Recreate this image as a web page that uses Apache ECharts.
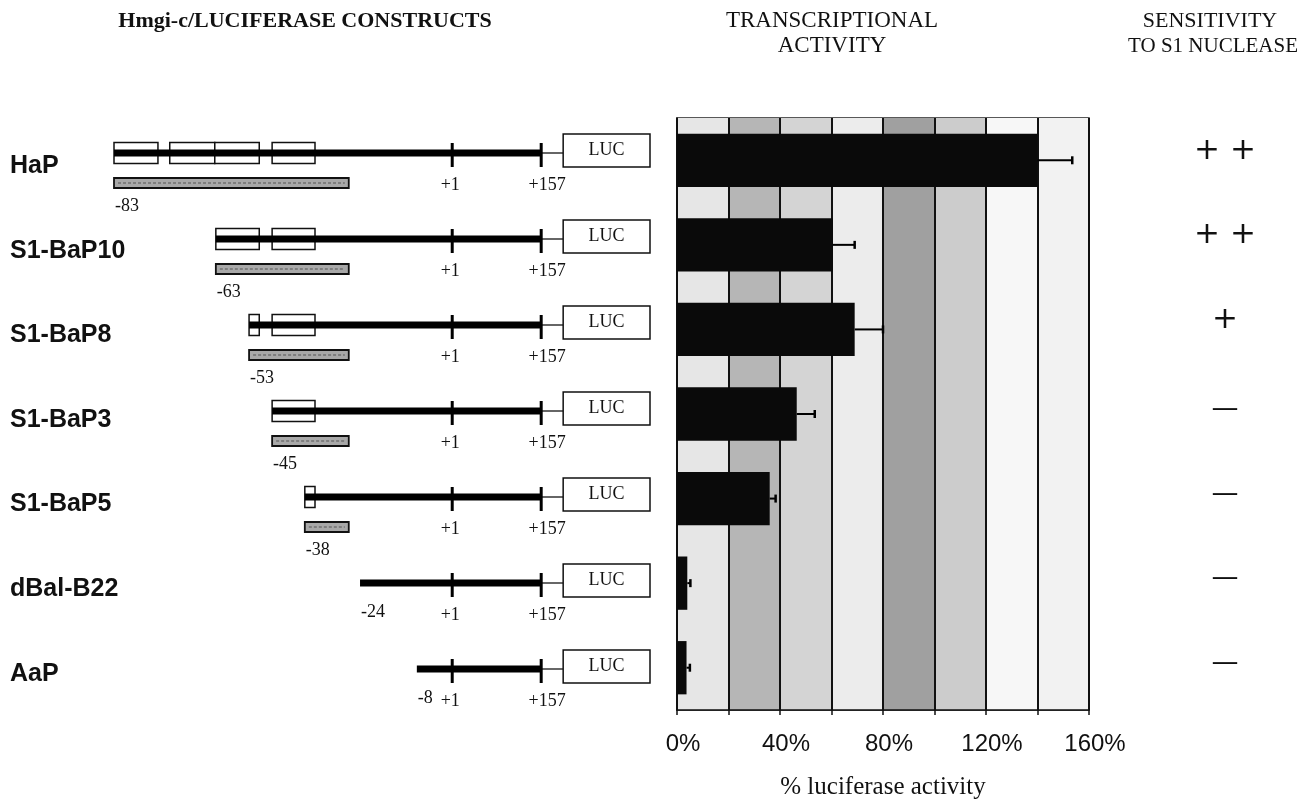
<!DOCTYPE html>
<html>
<head>
<meta charset="utf-8">
<script src="https://cdn.jsdelivr.net/npm/echarts@6/dist/echarts.min.js"></script>
<style>
  html, body { margin: 0; padding: 0; background: #fff; }
  #chart { width: 1314px; height: 800px; }
</style>
</head>
<body>
<div id="chart"></div>
<script>
// ---------- data ----------
const constructs = ['HaP', 'S1-BaP10', 'S1-BaP8', 'S1-BaP3', 'S1-BaP5', 'dBal-B22', 'AaP'];
const startLabels = ['-83', '-63', '-53', '-45', '-38', '-24', '-8'];
const activity = [140, 60.5, 69, 46.5, 36, 4, 3.7];          // % luciferase activity
const activityError = [13.5, 8.5, 11, 7, 2.3, 1.2, 1.3];
const sensitivity = ['++', '++', '+', '-', '-', '-', '-'];
const xTickLabels = [0, 40, 80, 120, 160];

// schematic map (units of a hidden 0-100 map axis, not to scale)
const mapStart = [0, 19.0, 25.2, 29.5, 35.6, 45.9, 56.5];
const mapBoxes = [
  [[0, 8.2], [10.4, 18.8], [18.8, 27.1], [29.5, 37.5]],
  [[19.0, 27.1], [29.5, 37.5]],
  [[25.2, 27.1], [29.5, 37.5]],
  [[29.5, 37.5]],
  [[35.6, 37.5]],
  [],
  []
];
const mapProbeEnd = [43.8, 43.8, 43.8, 43.8, 43.8, null, null];
const mapTSS = 63.1;
const mapEnd = 79.7;
const mapLucStart = 83.8;
const mapLucEnd = 100;

// ---------- chart ----------
const chart = echarts.init(document.getElementById('chart'));
const SERIF = '"Liberation Serif", "Times New Roman", serif';
const SANS = '"Liberation Sans", Arial, sans-serif';

function renderConstruct(params, api) {
  const i = api.value(1);
  const y = api.coord([0, i])[1];
  const X = v => api.coord([v, i])[0];
  const ch = [];
  const hasProbe = mapProbeEnd[i] != null;
  if (hasProbe) {
    ch.push({ type: 'rect', shape: { x: X(mapStart[i]), y: y + 25, width: X(mapProbeEnd[i]) - X(mapStart[i]), height: 10 },
      style: { fill: '#a8a8a8', stroke: '#111', lineWidth: 1.8 } });
    ch.push({ type: 'line', shape: { x1: X(mapStart[i]) + 4, y1: y + 30, x2: X(mapProbeEnd[i]) - 4, y2: y + 30 },
      style: { stroke: '#555', lineWidth: 1, lineDash: [3, 2] } });
  }
  mapBoxes[i].forEach(b => {
    ch.push({ type: 'rect', shape: { x: X(b[0]), y: y - 10.5, width: X(b[1]) - X(b[0]), height: 21 },
      style: { fill: '#fff', stroke: '#111', lineWidth: 1.5 } });
  });
  ch.push({ type: 'rect', shape: { x: X(mapStart[i]), y: y - 3.5, width: X(mapEnd) - X(mapStart[i]), height: 7 },
    style: { fill: '#000' } });
  [mapTSS, mapEnd].forEach(t => {
    ch.push({ type: 'rect', shape: { x: X(t) - 1.5, y: y - 10, width: 3, height: 24 }, style: { fill: '#000' } });
  });
  ch.push({ type: 'line', shape: { x1: X(mapEnd), y1: y, x2: X(mapLucStart), y2: y },
    style: { stroke: '#000', lineWidth: 1.2 } });
  ch.push({ type: 'rect', shape: { x: X(mapLucStart), y: y - 19, width: X(mapLucEnd) - X(mapLucStart), height: 33 },
    style: { fill: '#fff', stroke: '#111', lineWidth: 1.5 } });
  ch.push({ type: 'text', x: (X(mapLucStart) + X(mapLucEnd)) / 2, y: y - 2.5,
    style: { text: 'LUC', align: 'center', verticalAlign: 'middle', font: '18px ' + SERIF, fill: '#111' } });
  ch.push({ type: 'text', x: X(mapStart[i]) + 1, y: y + (hasProbe ? 53 : 29),
    style: { text: startLabels[i], align: 'left', verticalAlign: 'middle', font: '18px ' + SERIF, fill: '#111' } });
  ch.push({ type: 'text', x: X(mapTSS) - 2, y: y + 32,
    style: { text: '+1', align: 'center', verticalAlign: 'middle', font: '18px ' + SERIF, fill: '#111' } });
  ch.push({ type: 'text', x: X(mapEnd) + 6, y: y + 32,
    style: { text: '+157', align: 'center', verticalAlign: 'middle', font: '18px ' + SERIF, fill: '#111' } });
  return { type: 'group', children: ch };
}

function renderError(params, api) {
  const v = api.value(0), i = api.value(1), e = api.value(2);
  const p0 = api.coord([v, i]);
  const p1 = api.coord([v + e, i]);
  return {
    type: 'group',
    children: [
      { type: 'line', shape: { x1: p0[0], y1: p0[1], x2: p1[0], y2: p1[1] }, style: { stroke: '#000', lineWidth: 2 } },
      { type: 'line', shape: { x1: p1[0], y1: p1[1] - 4, x2: p1[0], y2: p1[1] + 4 }, style: { stroke: '#000', lineWidth: 2.5 } }
    ]
  };
}

const option = {
  backgroundColor: '#fff',
  animation: false,
  graphic: [
    { type: 'text', x: 305, y: 21, style: { text: 'Hmgi-c/LUCIFERASE CONSTRUCTS', align: 'center', verticalAlign: 'middle',
      font: 'bold 22px ' + SERIF, fill: '#111' } },
    { type: 'text', x: 832, y: 21, style: { text: 'TRANSCRIPTIONAL', align: 'center', verticalAlign: 'middle',
      font: '23px ' + SERIF, fill: '#111' } },
    { type: 'text', x: 832, y: 46, style: { text: 'ACTIVITY', align: 'center', verticalAlign: 'middle',
      font: '23px ' + SERIF, fill: '#111' } },
    { type: 'text', x: 1210, y: 21, style: { text: 'SENSITIVITY', align: 'center', verticalAlign: 'middle',
      font: '22px ' + SERIF, fill: '#111' } },
    { type: 'text', x: 1213, y: 46, style: { text: 'TO S1 NUCLEASE', align: 'center', verticalAlign: 'middle',
      font: '21px ' + SERIF, fill: '#111' } }
  ],
  grid: [
    { left: 114, right: 664, top: 110, bottom: 88, outerBoundsMode: 'none', containLabel: false },
    { left: 677, right: 225, top: 118, bottom: 90, outerBoundsMode: 'none', containLabel: false,
      show: true, borderColor: '#222', borderWidth: 1.5, backgroundColor: 'transparent' }
  ],
  xAxis: [
    { gridIndex: 0, type: 'value', min: 0, max: 100, show: false },
    {
      gridIndex: 1, type: 'value', min: 0, max: 160, interval: 20,
      axisLine: { show: true, lineStyle: { color: '#111', width: 1.5 } },
      axisTick: { show: true, length: 5, lineStyle: { color: '#111', width: 1.5 } },
      axisLabel: {
        margin: 22, fontSize: 24, fontFamily: SANS, color: '#111', padding: [0, 0, 0, 12],
        formatter: v => xTickLabels.indexOf(v) >= 0 ? v + '%' : ''
      },
      splitLine: { show: true, lineStyle: { color: '#111', width: 2 } },
      splitArea: { show: true, areaStyle: { color: ['#e6e6e6', '#b6b6b6', '#d4d4d4', '#ececec', '#a0a0a0', '#cccccc', '#f7f7f7', '#f2f2f2'] } },
      name: '% luciferase activity', nameLocation: 'middle', nameGap: 65,
      nameTextStyle: { fontSize: 25, fontFamily: SERIF, color: '#111' }
    }
  ],
  yAxis: [
    {
      gridIndex: 0, type: 'category', data: constructs, inverse: true,
      axisLine: { show: false }, axisTick: { show: false }, axisLabel: { show: false }
    },
    {
      gridIndex: 1, type: 'category', data: constructs, inverse: true,
      axisLine: { show: true, lineStyle: { color: '#111', width: 1.5 } }, axisTick: { show: false },
      axisLabel: {
        align: 'left', margin: 667,
        formatter: v => '{n|' + v + '}',
        rich: {
          n: { fontSize: 25, fontWeight: 'bold', fontFamily: SANS, color: '#111', padding: [12, 0, 0, 0] }
        }
      }
    },
    {
      gridIndex: 1, type: 'category', data: sensitivity, inverse: true, position: 'right',
      axisLine: { show: false }, axisTick: { show: false },
      axisLabel: {
        margin: 136, align: 'center',
        formatter: v => v === '-' ? '{d|—}' : '{p|' + v.split('').join(' ') + '}',
        rich: {
          p: { fontSize: 31, fontFamily: '"DejaVu Sans", sans-serif', color: '#111', padding: [0, 0, 19, 0] },
          d: { fontSize: 27, fontFamily: '"DejaVu Sans", sans-serif', color: '#111', padding: [0, 0, 10, 0] }
        }
      }
    }
  ],
  series: [
    {
      type: 'custom', xAxisIndex: 0, yAxisIndex: 0, renderItem: renderConstruct,
      data: constructs.map((c, i) => [mapStart[i], i]), z: 5
    },
    {
      type: 'bar', xAxisIndex: 1, yAxisIndex: 1, data: activity, barWidth: '63%',
      itemStyle: { color: '#0a0a0a' }, z: 5
    },
    {
      type: 'custom', xAxisIndex: 1, yAxisIndex: 1, renderItem: renderError,
      encode: { x: 0, y: 1 },
      data: activity.map((v, i) => [v, i, activityError[i]]), z: 6
    }
  ]
};
chart.setOption(option);
</script>
</body>
</html>
